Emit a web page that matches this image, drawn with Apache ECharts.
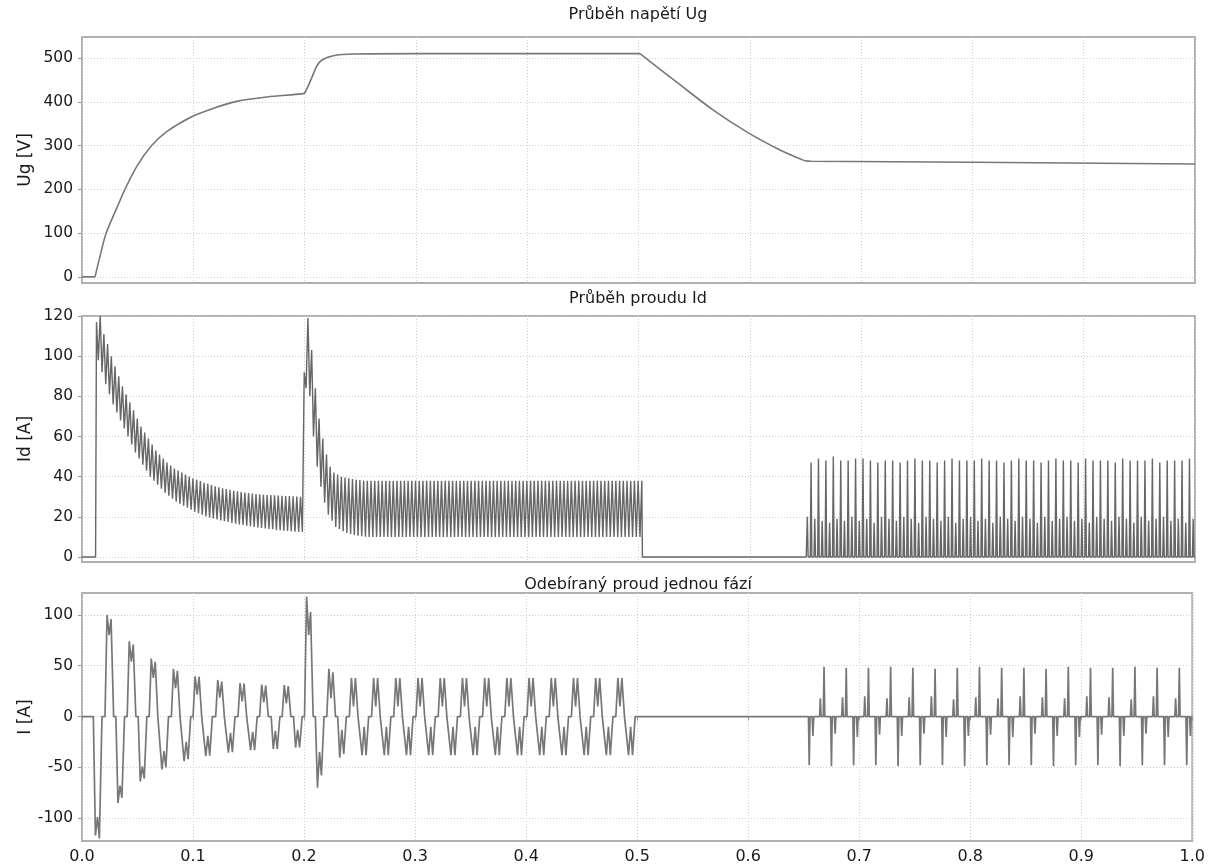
<!DOCTYPE html>
<html><head><meta charset="utf-8">
<script src="https://cdn.jsdelivr.net/npm/echarts@6/dist/echarts.min.js"></script>
<style>html,body{margin:0;padding:0;background:#fff}#c{width:1208px;height:865px}</style>
</head><body><div id="c"></div>
<script>
// ---------- tick labels ----------
const xTicks = [0, 0.1, 0.2, 0.3, 0.4, 0.5, 0.6, 0.7, 0.8, 0.9, 1.0];
const ugTicks = [0, 100, 200, 300, 400, 500];
const idTicks = [0, 20, 40, 60, 80, 100, 120];
const iTicks = [-100, -50, 0, 50, 100];
const titles = ['Průběh napětí Ug', 'Průběh proudu Id', 'Odebíraný proud jednou fází'];
const yNames = ['Ug [V]', 'Id [A]', 'I [A]'];

// ---------- Ug (time, value) ----------
const ugT = [0, 0.0117, 0.016, 0.0216, 0.0317, 0.0386, 0.0491, 0.0626, 0.0761, 0.0986, 0.118, 0.139, 0.166, 0.1974, 0.2000, 0.2063, 0.2108, 0.2153, 0.2258, 0.2438, 0.30, 0.5013, 0.5358, 0.5672, 0.5987, 0.6271, 0.6496, 0.655, 0.80, 1.0];
const ugV = [0, 0, 45, 99, 160, 200, 252, 300, 332, 366, 385, 401, 411, 418, 420, 454, 481, 495, 505, 509, 510, 510, 442, 381, 329, 290, 265, 264, 262, 258];
// index ranges of the Ug trace: [first, last, curved?]
const ugPieces = [[0, 1, false], [1, 20, true], [20, 21, false], [21, 26, true], [26, 29, false]];

// ---------- Id: ripple extremes (peak, trough, ...) every half ripple period ----------
const idRippleStart = 0.013;      // s, time of first value
const idRippleStep = 1 / 600;     // s, half of the 300 Hz ripple period
const idRampDown = [117,98, 120,92, 111,86, 106,81, 100,76, 95,72, 90,68, 85,64, 81,60, 77,56,
  73,52, 69,49, 65,46, 62,43, 59,40, 56,38, 53,36, 51,34, 49,32, 47,30.5,
  45.5,29, 44,27.5, 43,26.5, 42,25.5, 41,24.5, 40,23.5, 39,22.5, 38.5,21.8, 37.8,21, 37,20.3,
  36.4,19.7, 35.8,19.2, 35.2,18.7, 34.7,18.2, 34.2,17.8, 33.8,17.4, 33.4,17, 33,16.6, 32.7,16.2, 32.4,15.9,
  32.1,15.6, 31.8,15.3, 31.6,15, 31.4,14.7, 31.2,14.4, 31,14.2, 30.9,14, 30.8,13.8, 30.7,13.5, 30.6,13.3,
  30.5,13.1, 30.4,12.9, 30.3,12.8, 30.2,12.6, 30.1,12.5, 30,12.4];
const idStepUp = [92,84, 119,80, 103,60, 84,45, 69,35, 59,27, 51,21, 45,18, 42,15, 41,14, 40,12.8, 39.6,12, 39.2,11.5, 38.8,11, 38.5,10.6, 38.3,10.3, 38.1,10.1];
const idSteady = [38,10, 38,10, 38,10, 38,10, 38,10, 38,10, 38,10, 38,10, 38,10, 38,10,
  38,10, 38,10, 38,10, 38,10, 38,10, 38,10, 38,10, 38,10, 38,10, 38,10,
  38,10, 38,10, 38,10, 38,10, 38,10, 38,10, 38,10, 38,10, 38,10, 38,10,
  38,10, 38,10, 38,10, 38,10, 38,10, 38,10, 38,10, 38,10, 38,10, 38,10,
  38,10, 38,10, 38,10, 38,10, 38,10, 38,10, 38,10, 38,10, 38,10, 38,10,
  38,10, 38,10, 38,10, 38,10, 38,10, 38,10, 38,10, 38,10, 38,10, 38,10,
  38,10, 38,10, 38,10, 38,10, 38,10, 38,10, 38,10, 38,10, 38,10, 38,10,
  38,10, 38,10, 38,10, 38,10, 38];
const idOnTime = 0.0122, idOffTime = 0.5035;
// pulses after 0.65 s, 300 Hz, alternately short / tall
const idPulseStart = 0.6517, idPulseStep = 1 / 300;
const idPulses = [20,47, 19,49, 18,48, 17,50, 19,48, 18,48, 20,49, 18,49, 19,48, 17,47,
  20,48, 19,48, 18,47, 20,48, 19,49, 17,48, 20,48, 19,47, 18,48, 20,49,
  17,48, 19,48, 20,48, 18,49, 19,48, 17,48, 20,47, 19,48, 18,49, 20,48,
  19,48, 17,47, 20,48, 18,49, 19,48, 20,48, 18,47, 19,49, 17,48, 20,48,
  19,48, 18,47, 20,49, 19,48, 17,48, 20,48, 18,49, 19,47, 20,48, 18,48,
  19,48, 17,49, 19];

// ---------- I: 50 Hz lobes (start time, first hump, dip, second hump) ----------
const iLobeStart = [0.0102,0.0207,0.0305,0.0407,0.0506,0.0605,0.0701,0.0805,0.0901,0.1000,
  0.1096,0.1204,0.1300,0.1405,0.1500,0.1600,0.1704,0.1803,0.1905,0.2004,
  0.2102,0.2205,0.2303,0.2408,0.2504,0.2608,0.2704,0.2808,0.2904,0.3008,
  0.3104,0.3208,0.3304,0.3408,0.3504,0.3608,0.3704,0.3808,0.3904,0.4008,
  0.4104,0.4208,0.4304,0.4408,0.4504,0.4608,0.4704,0.4808,0.4904];
const iLobeHump1 = [-117,100,-85,74,-64,57,-52,47,-44,39.5,
  -39,36,-35.5,33,-33,31.5,-32,31,-30.5,118,
  -70,47,-40.5,38,-38,38,-38,38,-38,38,
  -38,38,-38,38,-38,38,-38,38,-38,38,
  -38,38,-38,38,-38,38,-38,38,-38];
const iLobeDip = [-99,80,-68,54,-49,38,-34,28,-25,21.5,
  -19,18.5,-16,15,-15,14,-14,13,-13,80,
  -35,18,-13,10,-10,10,-10,10,-10,10,
  -10,10,-10,10,-10,10,-10,10,-10,10,
  -10,10,-10,10,-10,10,-10,10,-10];
const iLobeHump2 = [-120,96,-80,71,-61,54,-50,45,-42,39,
  -38.5,34.5,-35,32.5,-33,30.5,-32,30,-30.5,103,
  -58,43.5,-37,38,-38,38,-38,38,-38,38,
  -38,38,-38,38,-38,38,-38,38,-38,38,
  -38,38,-38,38,-38,38,-38,38,-38];
// pulses after 0.65 s, per 50 Hz cycle: negative tall, negative short, positive short, positive tall
const iCycleStart = 0.655, iCycleStep = 0.02;
const iNegTall  = [-48,-49,-48,-48,-49,-48,-48,-49,-48,-48,-48,-49,-48,-48,-49,-48,-48,-48];
const iNegShort = [-19,-17,-20,-18,-19,-17,-20,-19,-18,-20,-17,-19,-20,-18,-19,-17,-20,-19];
const iPosShort = [18,19,20,18,19,20,17,19,18,20,19,18,20,19,17,20,18];
const iPosTall  = [49,48,48,49,48,47,48,49,48,48,47,49,48,48,49,48,48];

// ---------- build series data ----------
const ugData = ugT.map((t, i) => [t, ugV[i]]);

const idData = [[0, 0], [idOnTime, 0]];
idRampDown.concat(idStepUp, idSteady).forEach((v, i) => idData.push([idRippleStart + i * idRippleStep, v]));
idData.push([idOffTime, 0], [idPulseStart - 0.001, 0]);
const PW = 0.0007;
idPulses.forEach((h, j) => {
  const t = idPulseStart + j * idPulseStep;
  idData.push([t - PW, 0], [t, h], [t + PW, 0]);
});
idData.push([1.0, 0]);

const LOBE = 0.0078;
const iData = [[0, 0]];
iLobeStart.forEach((s, k) => {
  iData.push([s, 0], [s + 0.24 * LOBE, iLobeHump1[k]], [s + 0.48 * LOBE, iLobeDip[k]],
             [s + 0.70 * LOBE, iLobeHump2[k]], [s + LOBE, 0]);
});
iNegTall.forEach((h, c) => {
  const t0 = iCycleStart + c * iCycleStep;
  const pts = [[t0, h], [t0 + idPulseStep, iNegShort[c]]];
  if (c < iPosShort.length) pts.push([t0 + 3 * idPulseStep, iPosShort[c]], [t0 + 4 * idPulseStep, iPosTall[c]]);
  pts.forEach(([t, v]) => iData.push([t - PW, 0], [t, v], [t + PW, 0]));
});
iData.push([1.0, 0]);

// ---------- chart ----------
const FONT = 'DejaVu Sans';
const gridTops = [37, 316, 593], gridHeights = [246, 246, 249];
const yMin = [-14, -2.5, -122.5], yMax = [548, 120, 121.6];
const yTicks = [ugTicks, idTicks, iTicks];
const titleTops = [2, 286, 572];

const ugSeries = ugPieces.map(([a, b, curved]) => ({
  type: 'line', xAxisIndex: 0, yAxisIndex: 0, data: ugData.slice(a, b + 1), showSymbol: false,
  smooth: curved ? 0.3 : false, lineStyle: {color: '#777', width: 1.6}
}));

const chart = echarts.init(document.getElementById('c'), null, {renderer: 'canvas'});
chart.setOption({
  animation: false,
  backgroundColor: '#fff',
  title: titles.map((t, i) => ({
    text: t, left: 633, top: titleTops[i], textAlign: 'center',
    textStyle: {fontFamily: FONT, fontSize: 16, fontWeight: 'normal', color: '#1a1a1a'}
  })),
  grid: gridTops.map((top, i) => ({
    left: 82, right: 13, top: top, height: gridHeights[i], show: true,
    borderColor: '#b0b0b0', borderWidth: 2, backgroundColor: 'transparent'
  })),
  xAxis: [0, 1, 2].map(i => ({
    type: 'value', gridIndex: i, min: 0, max: 1, interval: 0.1,
    axisLine: {show: false},
    axisTick: {show: i === 2, length: 4, lineStyle: {color: '#999'}},
    axisLabel: {show: i === 2, margin: 8, fontFamily: FONT, fontSize: 16, color: '#1a1a1a',
      formatter: v => v.toFixed(1)},
    splitLine: {show: true, lineStyle: {color: '#cfcfcf', type: [1, 2], width: 1}}
  })),
  yAxis: [0, 1, 2].map(i => ({
    type: 'value', gridIndex: i, min: yMin[i], max: yMax[i],
    name: yNames[i], nameLocation: 'middle', nameGap: 48, nameRotate: 90, nameMoveOverlap: false,
    nameTextStyle: {fontFamily: FONT, fontSize: 17, color: '#1a1a1a'},
    axisLine: {show: false},
    axisTick: {show: true, length: 4, customValues: yTicks[i], lineStyle: {color: '#999'}},
    axisLabel: {show: true, margin: 9, customValues: yTicks[i], fontFamily: FONT, fontSize: 15.5, color: '#1a1a1a'},
    splitLine: {show: true, lineStyle: {color: '#cfcfcf', type: [1, 2], width: 1}}
  })),
  series: ugSeries.concat([
    {type: 'line', xAxisIndex: 1, yAxisIndex: 1, data: idData, showSymbol: false,
     lineStyle: {color: '#666', width: 1.4}},
    {type: 'line', xAxisIndex: 2, yAxisIndex: 2, data: iData, showSymbol: false,
     lineStyle: {color: '#777', width: 1.7}}
  ])
});
</script></body></html>
